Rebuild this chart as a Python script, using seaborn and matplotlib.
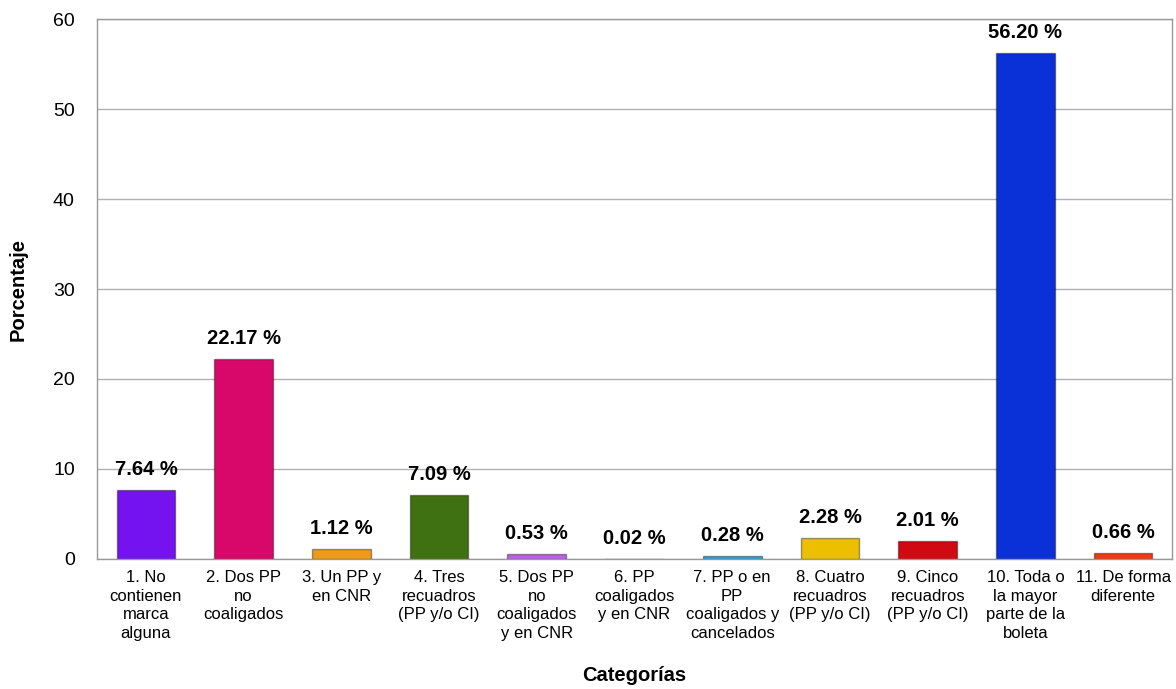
import matplotlib
matplotlib.use("Agg")
import matplotlib.pyplot as plt
import pandas as pd
import seaborn as sns

# Chart data
categorias = [
    "1. No\ncontienen\nmarca\nalguna",
    "2. Dos PP\nno\ncoaligados",
    "3. Un PP y\nen CNR",
    "4. Tres\nrecuadros\n(PP y/o CI)",
    "5. Dos PP\nno\ncoaligados\ny en CNR",
    "6. PP\ncoaligados\ny en CNR",
    "7. PP o en\nPP\ncoaligados y\ncancelados",
    "8. Cuatro\nrecuadros\n(PP y/o CI)",
    "9. Cinco\nrecuadros\n(PP y/o CI)",
    "10. Toda o\nla mayor\nparte de la\nboleta",
    "11. De forma\ndiferente",
]
porcentajes = [7.64, 22.17, 1.12, 7.09, 0.53, 0.02, 0.28, 2.28, 2.01, 56.20, 0.66]
colores = ["#7413F0", "#D8086A", "#F09A1A", "#3F7012", "#C060E8", "#E09070",
           "#2AA8E0", "#ECC000", "#D00A10", "#0A30D8", "#F03A10"]

df = pd.DataFrame({"categoria": categorias, "porcentaje": porcentajes})

sns.set_style("white")
plt.rcParams["font.family"] = ["Liberation Sans", "DejaVu Sans"]
plt.rcParams["text.color"] = "black"
plt.rcParams["axes.labelcolor"] = "black"
plt.rcParams["xtick.color"] = "black"
plt.rcParams["ytick.color"] = "black"

fig = plt.figure(figsize=(11.76, 6.89), dpi=100)
ax = fig.add_axes([0.0825, 0.1887, 0.9141, 0.7837])

sns.barplot(data=df, x="categoria", y="porcentaje", hue="categoria",
            palette=colores, saturation=1, legend=False, width=0.6, ax=ax,
            edgecolor="#00000060", linewidth=1)

ax.set_ylim(0, 60)
ax.set_yticks(range(0, 61, 10))
ax.yaxis.grid(True, color="#b0b0b0", linewidth=1)
ax.set_axisbelow(True)
for s in ax.spines.values():
    s.set_color("#999999")
    s.set_linewidth(1)

ax.tick_params(axis="y", labelsize=14, length=4, color="#999999", pad=12)
ax.tick_params(axis="x", labelsize=12, length=0, pad=8)
for lbl in ax.get_xticklabels():
    lbl.set_linespacing(1.3)
    lbl.set_verticalalignment("top")

for p, v in zip(ax.patches, porcentajes):
    ax.annotate(f"{v:.2f} %", (p.get_x() + p.get_width() / 2, p.get_height()),
                xytext=(0, 8), textcoords="offset points",
                ha="center", va="bottom", fontsize=14.5, fontweight="bold")

ax.set_xlabel("Categorías", fontsize=14.5, fontweight="bold", labelpad=18)
ax.set_ylabel("Porcentaje", fontsize=14.5, fontweight="bold", labelpad=18)

fig.savefig("out.png", dpi=100)
